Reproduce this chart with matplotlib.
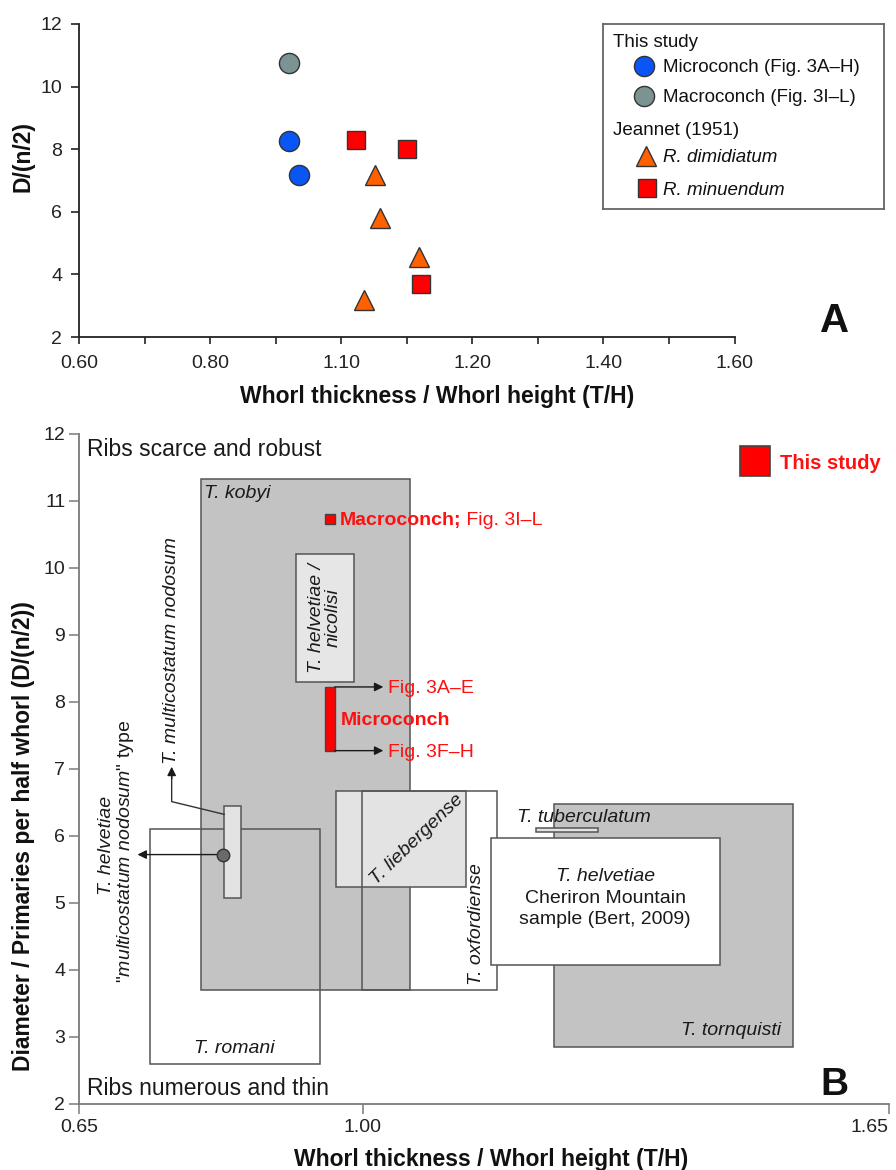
import matplotlib
matplotlib.use('Agg')
import matplotlib.pyplot as plt
from matplotlib.patches import Rectangle

plt.rcParams['font.family'] = ['Liberation Sans', 'DejaVu Sans']
plt.rcParams['mathtext.fontset'] = 'custom'
plt.rcParams['mathtext.rm'] = 'Liberation Sans'
plt.rcParams['mathtext.it'] = 'Liberation Sans:italic'
plt.rcParams['mathtext.bf'] = 'Liberation Sans:bold'

# ---------------- Panel A data ----------------
micro_th = [0.920, 0.935]
micro_dn = [8.26, 7.16]
macro_th = [0.920]
macro_dn = [10.76]
dimid_th = [1.052, 1.059, 1.119, 1.035]
dimid_dn = [7.17, 5.79, 4.56, 3.19]
minu_th = [1.022, 1.101, 1.121]
minu_dn = [8.28, 8.00, 3.68]
xticks_A = [0.6, 0.8, 1.0, 1.2, 1.4, 1.6]
xticklabels_A = ['0.60', '0.80', '1.10', '1.20', '1.40', '1.60']
xminor_A = [0.7, 0.9, 1.1, 1.3, 1.5]
yticks_A = [2, 4, 6, 8, 10, 12]

# ---------------- Panel B data ----------------
species = ['T. kobyi', 'T. tornquisti', 'T. liebergense', 'T. oxfordiense',
           'T. romani', 'Cheriron', 'T. tuberculatum', 'T. helvetiae / nicolisi',
           'T. multicostatum nodosum']
th_min = [0.800, 1.237, 0.967, 0.999, 0.737, 1.158, 1.214, 0.918, 0.829]
th_max = [1.059, 1.531, 1.128, 1.166, 0.947, 1.441, 1.291, 0.989, 0.850]
dn_min = [3.70, 2.85, 5.23, 3.70, 2.60, 4.08, 6.06, 8.30, 5.07]
dn_max = [11.32, 6.48, 6.67, 6.67, 6.10, 5.97, 6.12, 10.20, 6.45]
fills = ['#c3c3c3', '#c3c3c3', '#e3e3e3', 'none', 'none', 'white', '#e3e3e3', '#e6e6e6', '#e3e3e3']
zorders = [1, 1, 2, 3, 3, 4, 4, 4, 5]
helv_type_pt = (0.828, 5.72)
micro_bar_th = (0.954, 0.9655)
micro_bar_dn = (7.27, 8.22)
macro_bar_dn = (10.65, 10.80)
this_study_pt = (1.485, 11.585)
xticks_B = [0.65, 1.00, 1.65]
xticklabels_B = ['0.65', '1.00', '1.65']
yticks_B = list(range(2, 13))

W, H = 896, 1170
fig = plt.figure(figsize=(W / 100, H / 100), dpi=100)


def fx(px):
    return px / W


def fy(py):
    return 1 - py / H


# ================= Panel A =================
axA = fig.add_axes([fx(79), fy(337), fx(734.5) - fx(79), fy(24) - fy(337)])
axA.set_xlim(0.6, 1.6)
axA.set_ylim(2, 12)
for s in ['top', 'right']:
    axA.spines[s].set_visible(False)
for s in ['left', 'bottom']:
    axA.spines[s].set_color('#222222')
    axA.spines[s].set_linewidth(1.3)
axA.set_xticks(xticks_A)
axA.set_xticklabels(xticklabels_A)
axA.set_xticks(xminor_A, minor=True)
axA.set_yticks(yticks_A)
axA.tick_params(axis='x', which='both', direction='out', length=5, width=1.2,
                color='#222222', labelsize=14, pad=8, labelcolor='#222222')
axA.tick_params(axis='y', direction='out', length=6, width=1.2, color='#222222',
                labelsize=14, pad=6, labelcolor='#222222')

mk = dict(linestyle='none', markeredgecolor='#333333', markeredgewidth=1.0, clip_on=False)
axA.plot(macro_th, macro_dn, 'o', ms=14.5, mfc='#7b9393', **mk)
axA.plot(micro_th, micro_dn, 'o', ms=14.5, mfc='#0a55f5', **mk)
axA.plot(dimid_th, dimid_dn, '^', ms=14, mfc='#ff6000', **mk)
axA.plot(minu_th, minu_dn, 's', ms=12.5, mfc='#ff0000', **mk)

fig.text(fx(23.3), fy(156.7), 'D/(n/2)', rotation=90, ha='center', va='center',
         fontsize=16.5, fontweight='bold', color='#111111')
fig.text(fx(437.5), fy(403), 'Whorl thickness / Whorl height (T/H)', ha='center',
         va='baseline', fontsize=16.5, fontweight='bold', color='#111111')
fig.text(fx(834.8), fy(331.7), 'A', ha='center', va='baseline', fontsize=29,
         fontweight='bold', color='#111111')

# Legend A (box)
lx0, ly0, lx1, ly1 = 603.3, 24, 884.3, 209.3
axL = fig.add_axes([fx(lx0), fy(ly1), fx(lx1) - fx(lx0), fy(ly0) - fy(ly1)])
axL.set_xlim(0, lx1 - lx0)
axL.set_ylim(ly1 - ly0, 0)
axL.set_xticks([])
axL.set_yticks([])
for s in axL.spines.values():
    s.set_color('#666666')
    s.set_linewidth(1.3)
lfs = 13.5
ltx = dict(fontsize=lfs, va='center_baseline', ha='left', color='#111111')
axL.text(9.4, 16.7, 'This study', **ltx)
axL.plot([41], [42], 'o', ms=14.5, mfc='#0a55f5', **mk)
axL.text(60, 42, 'Microconch (Fig. 3A–H)', **ltx)
axL.plot([41], [72], 'o', ms=14.5, mfc='#7b9393', **mk)
axL.text(60, 72, 'Macroconch (Fig. 3I–L)', **ltx)
axL.text(9.4, 104.3, 'Jeannet (1951)', **ltx)
axL.plot([42.4], [132], '^', ms=14, mfc='#ff6000', **mk)
axL.text(60, 132, 'R. dimidiatum', style='italic', **ltx)
axL.plot([43.4], [164.3], 's', ms=12.5, mfc='#ff0000', **mk)
axL.text(60, 164.3, 'R. minuendum', style='italic', **ltx)

# ================= Panel B =================
axB = fig.add_axes([fx(79.2), fy(1104), fx(888.9) - fx(79.2), fy(433.5) - fy(1104)])
axB.set_xlim(0.65, 1.65)
axB.set_ylim(2, 12)
for s in ['top', 'right']:
    axB.spines[s].set_visible(False)
for s in ['left', 'bottom']:
    axB.spines[s].set_color('#7a7a7a')
    axB.spines[s].set_linewidth(1.3)
axB.set_xticks(xticks_B)
axB.set_xticklabels(xticklabels_B)
axB.set_yticks(yticks_B)
axB.tick_params(axis='both', direction='out', length=7, width=1.1, color='#7a7a7a',
                labelsize=14, labelcolor='#222222')
axB.tick_params(axis='x', pad=4)
axB.tick_params(axis='y', pad=3)
axB.get_xticklabels()[-1].set_horizontalalignment('right')

for i in range(len(species)):
    r = Rectangle((th_min[i], dn_min[i]), th_max[i] - th_min[i], dn_max[i] - dn_min[i],
                  facecolor=fills[i], edgecolor='#555555', linewidth=1.1,
                  zorder=zorders[i], fill=(fills[i] != 'none'))
    axB.add_patch(r)

sfs = 14
lab = dict(fontsize=sfs, style='italic', color='#1a1a1a', zorder=8)
axB.text(th_min[0] + 0.004, dn_max[0] - 0.21, 'T. kobyi', ha='left', va='center', **lab)
axB.text(th_max[1] - 0.014, dn_min[1] + 0.25, 'T. tornquisti', ha='right', va='center', **lab)
axB.text(1.0668, 5.94, 'T. liebergense', ha='center', va='center', rotation=44, **lab)
axB.text(1.141, 4.685, 'T. oxfordiense', ha='center', va='center', rotation=90, **lab)
axB.text((th_min[4] + th_max[4]) / 2, dn_min[4] + 0.23, 'T. romani', ha='center', va='center', **lab)
axB.text(th_min[6] - 0.023, dn_max[6] + 0.15, 'T. tuberculatum', ha='left', va='center', **lab)
axB.text((th_min[7] + th_max[7]) / 2, (dn_min[7] + dn_max[7]) / 2, 'T. helvetiae /\nnicolisi',
         ha='center', va='center', rotation=90, linespacing=1.0, multialignment='center', **lab)
cx = (th_min[5] + th_max[5]) / 2
axB.text(cx, 5.39, 'T. helvetiae', ha='center', va='center', **lab)
axB.text(cx, 5.06, 'Cheriron Mountain', ha='center', va='center', fontsize=sfs, color='#1a1a1a', zorder=8)
axB.text(cx, 4.745, 'sample (Bert, 2009)', ha='center', va='center', fontsize=sfs, color='#1a1a1a', zorder=8)

# T. multicostatum nodosum label and leader
arrow_kw = dict(arrowstyle='-|>', color='#1a1a1a', lw=1.0, mutation_scale=13, shrinkA=0, shrinkB=0)
axB.plot([th_min[8], 0.7642, 0.7642], [6.32, 6.51, 6.9], color='#333333', lw=1.0, zorder=6)
axB.annotate('', xy=(0.7642, 7.03), xytext=(0.7642, 6.85), arrowprops=arrow_kw, zorder=7)
axB.text(0.7642, 7.07, 'T. multicostatum nodosum', ha='center', va='bottom', rotation=90, **lab)

# T. helvetiae "multicostatum nodosum" type
axB.plot([helv_type_pt[0]], [helv_type_pt[1]], 'o', ms=9, mfc='#6a6a6a', mec='#333333', mew=1.0, zorder=7)
axB.annotate('', xy=(0.722, helv_type_pt[1]), xytext=helv_type_pt, arrowprops=arrow_kw, zorder=6)
axB.text(0.6843, 5.85, 'T. helvetiae', ha='center', va='center', rotation=90, **lab)
axB.text(0.7066, 5.77, '"$\\mathit{multicostatum\\ nodosum}$" type', ha='center', va='center',
         rotation=90, fontsize=sfs, color='#1a1a1a', zorder=8)

# This study marks
red = '#ff1010'
axB.add_patch(Rectangle((micro_bar_th[0], micro_bar_dn[0]), micro_bar_th[1] - micro_bar_th[0],
                        micro_bar_dn[1] - micro_bar_dn[0], facecolor='#ff0000',
                        edgecolor='#444444', lw=1.0, zorder=6))
axB.add_patch(Rectangle((micro_bar_th[0], macro_bar_dn[0]), micro_bar_th[1] - micro_bar_th[0],
                        macro_bar_dn[1] - macro_bar_dn[0], facecolor='#ff0000',
                        edgecolor='#444444', lw=1.0, zorder=6))
for yv in micro_bar_dn:
    axB.annotate('', xy=(1.0256, yv), xytext=(micro_bar_th[1], yv), arrowprops=arrow_kw, zorder=7)
rtx = dict(ha='left', va='center_baseline', fontsize=sfs, color=red, zorder=8)
axB.text(1.0317, micro_bar_dn[1], 'Fig. 3A–E', **rtx)
axB.text(1.0317, micro_bar_dn[0], 'Fig. 3F–H', **rtx)
axB.text(0.9733, sum(micro_bar_dn) / 2, 'Microconch', fontweight='bold', **rtx)
t1 = axB.text(0.9712, sum(macro_bar_dn) / 2, 'Macroconch;', fontweight='bold', **rtx)
axB.annotate(' Fig. 3I–L', xy=(1, 0), xycoords=t1, ha='left', va='bottom', fontsize=sfs,
             color=red, zorder=8)

axB.plot([this_study_pt[0]], [this_study_pt[1]], 's', ms=21.5, mfc='#ff0000', mec='#444444',
         mew=1.2, clip_on=False, zorder=8)
axB.text(1.5153, this_study_pt[1], 'This study', ha='left', va='center_baseline', fontsize=14.5,
         fontweight='bold', color=red, zorder=8)

axB.text(0.6596, 11.754, 'Ribs scarce and robust', ha='left', va='center', fontsize=16.5, color='#1a1a1a')
axB.text(0.6597, 2.234, 'Ribs numerous and thin', ha='left', va='center', fontsize=16.5, color='#1a1a1a')

fig.text(fx(23.3), fy(836), 'Diameter / Primaries per half whorl (D/(n/2))', rotation=90,
         ha='center', va='center', fontsize=16.5, fontweight='bold', color='#111111')
fig.text(fx(491.2), fy(1166), 'Whorl thickness / Whorl height (T/H)', ha='center',
         va='baseline', fontsize=16.5, fontweight='bold', color='#111111')
fig.text(fx(834.5), fy(1095.3), 'B', ha='center', va='baseline', fontsize=28,
         fontweight='bold', color='#111111')

fig.savefig('out.png', dpi=100)
